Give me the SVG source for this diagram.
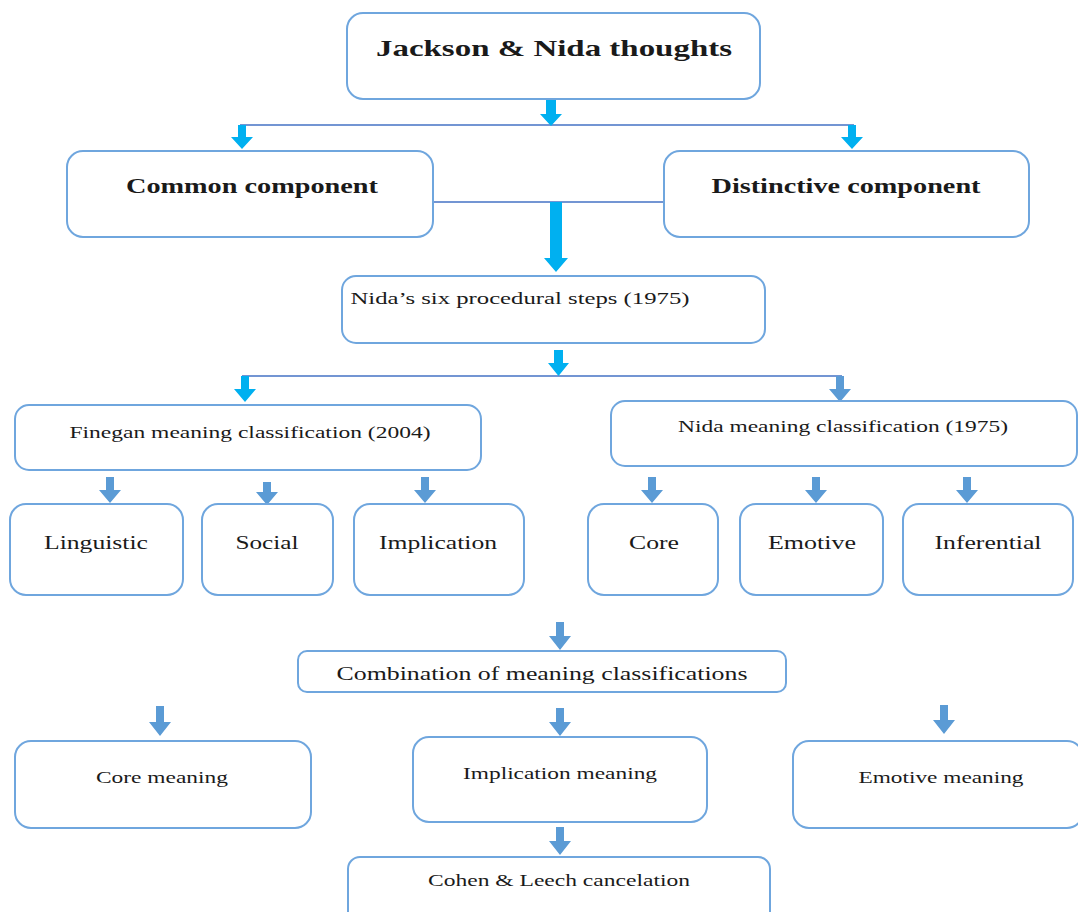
<svg xmlns="http://www.w3.org/2000/svg" width="1078" height="912" viewBox="0 0 1078 912">
<style>
.box{fill:#fff;stroke:#6FA6DE;stroke-width:2}
.t{font-family:"Liberation Serif","Times New Roman",serif;fill:#1a1a1a;text-anchor:middle}
.b{font-weight:bold}
.ln{stroke:#4472C4;stroke-width:1.5;fill:none}
.ac{fill:#00B0F0}
.ab{fill:#5B9BD5}
</style>
<rect width="1078" height="912" fill="#fff"/>
<g id="connectors">
<line class="ln" x1="240" y1="125" x2="854" y2="125"/>
<line class="ln" x1="433" y1="202" x2="664" y2="202"/>
<line class="ln" x1="242" y1="376" x2="842" y2="376"/>
<path class="ac" d="M546 100H556V114H562L551 126L540 114H546Z"/>
<path class="ac" d="M238 125H246V137H253L242 149L231 137H238Z"/>
<path class="ac" d="M848 125H856V137H863L852 149L841 137H848Z"/>
<path class="ac" d="M550 202H562V258H568L556 272L544 258H550Z"/>
<path class="ac" d="M554 350H563V363H569L558.5 376L548 363H554Z"/>
<path class="ac" d="M241 376H249V389H256L245 402L234 389H241Z"/>
<path class="ab" d="M836 376H844V389H851L840 402L829 389H836Z"/>
<path class="ab" d="M106 477H114V490H121L110 503L99 490H106Z"/>
<path class="ab" d="M263 482H271V492H278L267 505L256 492H263Z"/>
<path class="ab" d="M421 477H429V490H436L425 503L414 490H421Z"/>
<path class="ab" d="M648 477H656V490H663L652 503L641 490H648Z"/>
<path class="ab" d="M812 477H820V490H827L816 503L805 490H812Z"/>
<path class="ab" d="M963 477H971V490H978L967 503L956 490H963Z"/>
<path class="ab" d="M556 622H564V636H571L560 650L549 636H556Z"/>
<path class="ab" d="M156 706H164V722H171L160 736L149 722H156Z"/>
<path class="ab" d="M556 708H564V722H571L560 736L549 722H556Z"/>
<path class="ab" d="M940 705H948V720H955L944 734L933 720H940Z"/>
<path class="ab" d="M556 827H564V841H571L560 855L549 841H556Z"/>
</g>
<g id="n-top"><rect class="box" x="347" y="13" width="413" height="86" rx="16"/><text class="t b" x="554" y="56" font-size="24" textLength="356" lengthAdjust="spacingAndGlyphs">Jackson &amp; Nida thoughts</text></g>
<g id="n-common"><rect class="box" x="67" y="151" width="366" height="86" rx="16"/><text class="t b" x="252" y="193" font-size="20" textLength="252" lengthAdjust="spacingAndGlyphs">Common component</text></g>
<g id="n-distinctive"><rect class="box" x="664" y="151" width="365" height="86" rx="16"/><text class="t b" x="846" y="193" font-size="20" textLength="269" lengthAdjust="spacingAndGlyphs">Distinctive component</text></g>
<g id="n-nida-six"><rect class="box" x="342" y="276" width="423" height="67" rx="14"/><text class="t" x="520" y="304" font-size="17" textLength="339" lengthAdjust="spacingAndGlyphs">Nida’s six procedural steps (1975)</text></g>
<g id="n-finegan"><rect class="box" x="15" y="405" width="466" height="65" rx="14"/><text class="t" x="250" y="438" font-size="17" textLength="361" lengthAdjust="spacingAndGlyphs">Finegan meaning classification (2004)</text></g>
<g id="n-nida-class"><rect class="box" x="611" y="401" width="466" height="65" rx="14"/><text class="t" x="843" y="432" font-size="17" textLength="330" lengthAdjust="spacingAndGlyphs">Nida meaning classification (1975)</text></g>
<g id="n-linguistic"><rect class="box" x="10" y="504" width="173" height="91" rx="16"/><text class="t" x="96" y="549" font-size="19" textLength="104" lengthAdjust="spacingAndGlyphs">Linguistic</text></g>
<g id="n-social"><rect class="box" x="202" y="504" width="131" height="91" rx="16"/><text class="t" x="267" y="549" font-size="19" textLength="63" lengthAdjust="spacingAndGlyphs">Social</text></g>
<g id="n-implication"><rect class="box" x="354" y="504" width="170" height="91" rx="16"/><text class="t" x="438" y="549" font-size="19" textLength="118" lengthAdjust="spacingAndGlyphs">Implication</text></g>
<g id="n-core"><rect class="box" x="588" y="504" width="130" height="91" rx="16"/><text class="t" x="654" y="549" font-size="19" textLength="50" lengthAdjust="spacingAndGlyphs">Core</text></g>
<g id="n-emotive"><rect class="box" x="740" y="504" width="143" height="91" rx="16"/><text class="t" x="812" y="549" font-size="19" textLength="88" lengthAdjust="spacingAndGlyphs">Emotive</text></g>
<g id="n-inferential"><rect class="box" x="903" y="504" width="170" height="91" rx="16"/><text class="t" x="988" y="549" font-size="19" textLength="107" lengthAdjust="spacingAndGlyphs">Inferential</text></g>
<g id="n-combination"><rect class="box" x="298" y="651" width="488" height="41" rx="9"/><text class="t" x="542" y="680" font-size="19" textLength="411" lengthAdjust="spacingAndGlyphs">Combination of meaning classifications</text></g>
<g id="n-core-meaning"><rect class="box" x="15" y="741" width="296" height="87" rx="16"/><text class="t" x="162" y="783" font-size="17" textLength="132" lengthAdjust="spacingAndGlyphs">Core meaning</text></g>
<g id="n-implication-meaning"><rect class="box" x="413" y="737" width="294" height="85" rx="16"/><text class="t" x="560" y="779" font-size="17" textLength="194" lengthAdjust="spacingAndGlyphs">Implication meaning</text></g>
<g id="n-emotive-meaning"><rect class="box" x="793" y="741" width="290" height="87" rx="16"/><text class="t" x="941" y="783" font-size="17" textLength="165" lengthAdjust="spacingAndGlyphs">Emotive meaning</text></g>
<g id="n-cohen"><rect class="box" x="348" y="857" width="422" height="70" rx="12"/><text class="t" x="559" y="886" font-size="17" textLength="262" lengthAdjust="spacingAndGlyphs">Cohen &amp; Leech cancelation</text></g>
</svg>
